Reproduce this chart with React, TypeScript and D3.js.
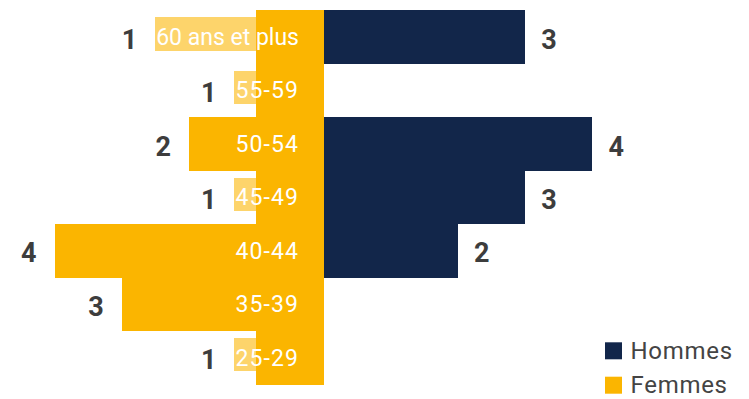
import React, { useEffect, useRef } from "react";
import * as d3 from "d3";

const categories = ["60 ans et plus", "55-59", "50-54", "45-49", "40-44", "35-39", "25-29"];
const hommes = [3, 0, 4, 3, 2, 0, 0];
const femmes = [1, 1, 2, 1, 4, 3, 1];
const seriesNames = ["Hommes", "Femmes"];

const W = 749;
const H = 399;
const NAVY = "#12264a";
const YELLOW = "#fbb500";
const LABEL_BG = "rgba(251,181,0,0.58)";
const FONT = "Roboto, 'Noto Sans', sans-serif";

export default function App() {
  const ref = useRef<SVGSVGElement | null>(null);

  useEffect(() => {
    const svg = d3.select(ref.current);
    svg.selectAll("*").remove();

    const y = d3.scaleBand<string>().domain(categories).range([10, 384]).padding(0);
    const x = d3.scaleLinear().domain([-4, 4]).range([54.6, 592.4]);
    const x0 = x(0);

    const rows = categories.map((c, i) => ({ c, h: hommes[i], f: femmes[i] }));

    // Hommes bars
    svg
      .append("g")
      .attr("shape-rendering", "crispEdges")
      .selectAll("rect")
      .data(rows.filter((r) => r.h > 0))
      .join("rect")
      .attr("x", x0)
      .attr("y", (d) => y(d.c)!)
      .attr("width", (d) => x(d.h) - x0)
      .attr("height", y.bandwidth() + 0.5)
      .attr("fill", NAVY);

    // Femmes bars
    svg
      .append("g")
      .attr("shape-rendering", "crispEdges")
      .selectAll("rect")
      .data(rows)
      .join("rect")
      .attr("x", (d) => x(-d.f))
      .attr("y", (d) => y(d.c)!)
      .attr("width", (d) => x0 - x(-d.f))
      .attr("height", y.bandwidth() + 0.5)
      .attr("fill", YELLOW);

    // Category labels with background
    const labelRight = 299;
    const gl = svg.append("g");
    const boxLefts: number[] = [];
    rows.forEach((r) => {
      const cy = y(r.c)! + y.bandwidth() / 2;
      const baseline = cy + 8.3;
      const bg = gl.append("rect").attr("shape-rendering", "crispEdges");
      const hyph = r.c.includes("-");
      const t = gl
        .append("text")
        .attr("x", labelRight)
        .attr("y", baseline)
        .attr("text-anchor", "end")
        .attr("font-family", FONT)
        .attr("font-size", 23)
        .attr("letter-spacing", hyph ? 1.1 : 0)
        .attr("fill", "#ffffff")
        .text(r.c);
      const bb = (t.node() as SVGTextElement).getBBox();
      const left = bb.x - 1;
      boxLefts.push(left);
      bg.attr("x", left)
        .attr("y", baseline - 27.7)
        .attr("width", labelRight + 3 - left)
        .attr("height", 33.4)
        .attr("fill", LABEL_BG);
    });

    // Value labels
    const gv = svg.append("g");
    rows.forEach((r, i) => {
      const cy = y(r.c)! + y.bandwidth() / 2;
      const baseline = cy + 12;
      const fLeft = Math.min(x(-r.f), boxLefts[i]);
      gv.append("text")
        .attr("x", fLeft - 18)
        .attr("y", baseline)
        .attr("text-anchor", "end")
        .attr("font-family", FONT)
        .attr("font-weight", 700)
        .attr("font-size", 27)
        .attr("fill", "#3d3d3d")
        .text(String(r.f));
      if (r.h > 0) {
        gv.append("text")
          .attr("x", x(r.h) + 16)
          .attr("y", baseline)
          .attr("text-anchor", "start")
          .attr("font-family", FONT)
          .attr("font-weight", 700)
          .attr("font-size", 27)
          .attr("fill", "#3d3d3d")
          .text(String(r.h));
      }
    });

    // Legend
    const colors = [NAVY, YELLOW];
    const leg = svg.append("g");
    seriesNames.forEach((n, i) => {
      const ty = 342.3 + i * 34.4;
      leg.append("rect")
        .attr("x", 605)
        .attr("y", ty)
        .attr("width", 17)
        .attr("height", 17)
        .attr("fill", colors[i]);
      leg.append("text")
        .attr("x", 630.5)
        .attr("y", ty + 16.5)
        .attr("font-family", FONT)
        .attr("font-size", 24)
        .attr("letter-spacing", 0.7)
        .attr("fill", "#444444")
        .text(n);
    });
  }, []);

  return (
    <svg
      ref={ref}
      width={W}
      height={H}
      style={{ position: "absolute", left: 0, top: 0, background: "#ffffff", display: "block" }}
    />
  );
}
